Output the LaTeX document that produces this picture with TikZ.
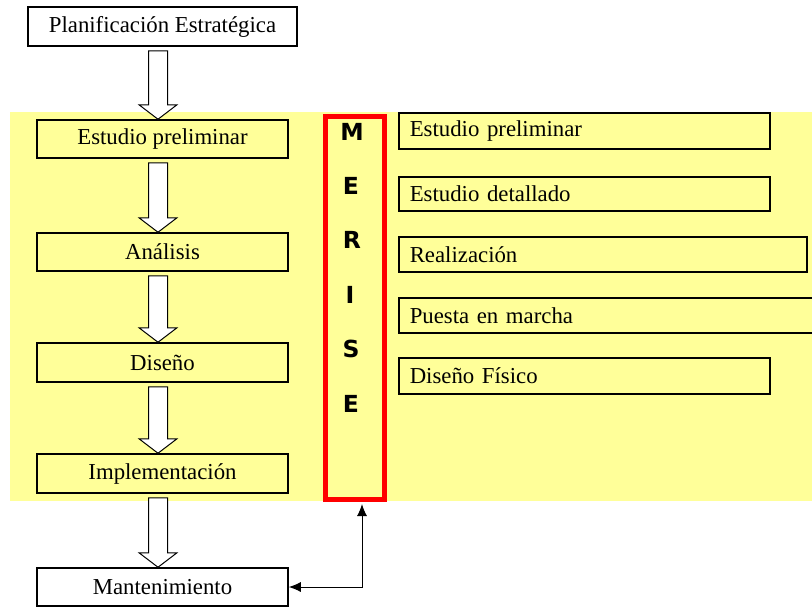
\documentclass[tikz,border=0pt]{standalone}
\usepackage{fontspec}
\setmainfont{Liberation Serif}
\newfontfamily\letfont{DejaVu Sans}
\usetikzlibrary{calc,arrows.meta}
\definecolor{paleyellow}{HTML}{FFFF99}
\definecolor{merisered}{HTML}{FF0000}
\tikzset{
  box/.style={draw=black, line width=1.5pt, fill=white, minimum width=251, minimum height=38, inner sep=0pt, font=\fontsize{22.8}{25}\selectfont},
  ybox/.style={box, fill=paleyellow},
  rbox/.style={draw=black, line width=1.5pt, fill=paleyellow, anchor=north west, text width=349, inner xsep=11, inner ysep=0pt, minimum height=35, align=left, font=\fontsize{22.8}{25}\selectfont},
  blockarr/.style={draw=black, line width=1pt, fill=white},
  letter/.style={font=\letfont\bfseries\fontsize{23.5}{25}\selectfont, inner sep=0pt},
  link/.style={draw=black, line width=1pt, {Latex[length=12pt,width=10pt]}-{Latex[length=12pt,width=10pt]}}
}
\newcommand\blockarrow[3]{%
  \path[blockarr] ($(#1.south)+(#3-9.5,4)$) -- ($(#1.south)+(#3+9.5,4)$)
    -- ($(#2.north)+(#3+9.5,-14.5)$) -- ($(#2.north)+(#3+19,-14.5)$)
    -- ($(#2.north)+(#3,0)$) -- ($(#2.north)+(#3-19,-14.5)$)
    -- ($(#2.north)+(#3-9.5,-14.5)$) -- cycle;}
\begin{document}
\begin{tikzpicture}[x=1pt,y=-1pt]
\useasboundingbox (0,0) rectangle (812,606);
\clip (0,0) rectangle (812,606);
% background band
\fill[paleyellow] (10,112) rectangle (812,501);
% left column
\node[box, minimum width=269, minimum height=39] (plan) at (162.5,26.5) {Planificación Estratégica};
\node[ybox] (est) at (162.5,139) {Estudio preliminar};
\node[ybox] (ana) at (162.5,252) {Análisis};
\node[ybox, minimum height=39] (dis) at (162.5,362.5) {Diseño};
\node[ybox, minimum height=39] (imp) at (162.5,473.5) {Implementación};
\node[box] (mant) at (162.5,587) {Mantenimiento};
\blockarrow{plan}{est}{-4.5}
\blockarrow{est}{ana}{-4.5}
\blockarrow{ana}{dis}{-4.5}
\blockarrow{dis}{imp}{-4.5}
\blockarrow{imp}{mant}{-4.5}
% MERISE box
\node[draw=merisered, line width=5pt, minimum width=59, minimum height=383, inner sep=0pt] (merise) at (354.5,307.5) {};
\node[letter] (m1) at (352,132) {M};
\node[letter] (m2) at (351,186) {E};
\node[letter] (m3) at (352,240) {R};
\node[letter] (m4) at (350,295) {I};
\node[letter] (m5) at (351,349) {S};
\node[letter] (m6) at (351,404) {E};
% right boxes
\node[rbox, minimum height=36] (r1) at (398,112) {Estudio preliminar};
\node[rbox, minimum height=34] (r2) at (398,176) {Estudio detallado};
\node[rbox, text width=386] (r3) at (398,236) {Realización};
\node[rbox, text width=420] (r4) at (398,297) {Puesta en marcha};
\node[rbox, minimum height=36] (r5) at (398,357) {Diseño Físico};
% link
\coordinate (bend) at (362,587);
\draw[link, shorten >=2.5pt] (mant.east) -- (bend) -- (bend |- merise.south);
\end{tikzpicture}
\end{document}
